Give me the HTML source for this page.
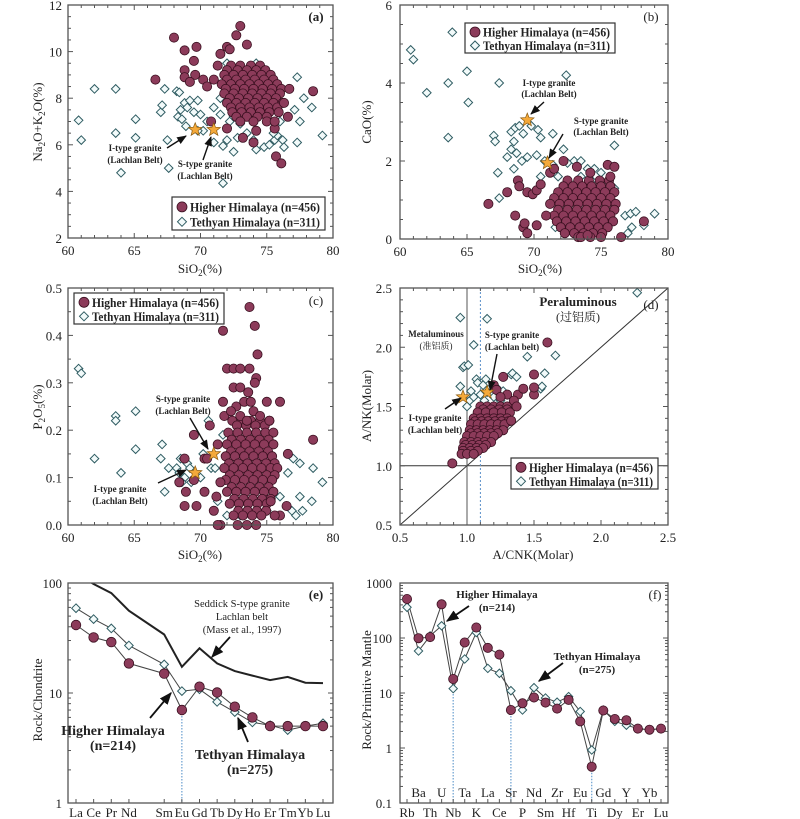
<!DOCTYPE html>
<html><head><meta charset="utf-8"><style>
html,body{margin:0;padding:0;background:#fff;}
svg{display:block;font-family:"Liberation Serif","Noto Serif CJK SC",serif;}
</style></head><body>
<svg id="fig" width="800" height="819" viewBox="0 0 800 819" xmlns="http://www.w3.org/2000/svg">
<defs><marker id="ah" viewBox="0 0 10 10" refX="9" refY="5" markerWidth="7" markerHeight="7" orient="auto"><path d="M0,1 L10,5 L0,9 z" fill="#111"/></marker></defs>
</svg>
<script>
// ===== Panel (a) data: SiO2 vs Na2O+K2O =====
const hhA = [[68,10.6],[68.8,10.05],[69.7,10.2],[69.5,9.6],[68.8,9.2],[68.8,8.9],[69.6,9.0],[69.2,8.7],[66.6,8.8],[70.2,8.8],[70.5,8.5],[71,8.8],[71.3,9.4],[71.5,9.9],[72,10.2],[72.7,10.7],[73,11.1],[73.5,10.3],[72.2,10.1],[70.8,7],[72,6.7],[73.2,6.3],[74,6.1],[74.2,6.6],[75.7,5.5],[76.1,5.2],[75.6,6.7],[75.6,7.0],[76.7,8.4],[78.5,8.3],[76.6,7.2],[76.3,7.8]];
const hhACoreY = [9.4,9.2,9.0,8.8,8.6,8.4,8.2,8.0,7.8,7.6,7.4,7.2,7.0];
const hhACoreX = [[72.3,73.0,73.8,74.5],[72.0,72.8,73.5,74.2,74.9],[71.8,72.5,73.2,73.9,74.6,75.3],[72.0,72.7,73.4,74.1,74.8,75.5],[71.6,72.3,73.0,73.7,74.4,75.1,75.8],[71.9,72.6,73.3,74.0,74.7,75.4,76.1],[71.8,72.5,73.2,73.9,74.6,75.3,76.0],[72.2,72.9,73.6,74.3,75.0,75.7],[72.0,72.7,73.4,74.1,74.8,75.5,76.2],[72.3,73.0,73.7,74.4,75.1,75.8],[72.4,73.1,73.8,74.5,75.2,75.9],[72.7,73.5,74.3,75.0],[73.0,74.0,75.0]];
const thA = [[60.8,7.05],[61,6.2],[62,8.4],[63.6,8.4],[63.6,6.5],[64,4.8],[65.1,7.1],[65.1,6.3],[67,7.4],[67.1,7.7],[67.3,8.4],[67.5,6.2],[67.6,5.0],[68.2,8.3],[68.4,8.25],[68.5,7.5],[68.3,7.2],[68.6,7.1],[68.8,7.8],[69,7.6],[69.2,7.9],[69.5,7.4],[69.8,7.9],[70,7.3],[70.2,6.6],[68.9,6.8],[69.8,6.6],[71,6.1],[71.7,5.95],[71.7,4.35],[72.5,5.7],[72,6.2],[72.8,6.3],[73.5,6.5],[74,6.2],[74.2,5.8],[74.8,5.9],[75.2,6.0],[75.6,6.2],[75.8,6.4],[76.2,6.2],[76.3,5.9],[77.3,8.9],[77.1,7.5],[77.5,7.0],[77.8,8.0],[78.4,7.6],[77.3,6.1],[79.2,6.4],[71.5,7.3],[72.2,7.0],[73,6.9],[71,7.6],[72.5,7.2],[74.2,9.5],[72,9.5],[71.5,8.0],[70.5,7.0],[75.5,6.5],[76,7.0]];
const starsA = [[69.6,6.65],[71,6.65]];
// ===== Panel (b) data: SiO2 vs CaO =====
const hhB = [[66.6,0.9],[68,1.2],[68.6,0.6],[68.8,1.5],[68.9,1.35],[69.2,0.3],[69.3,0.4],[69.5,0.15],[69.5,1.2],[69.9,1.15],[70.2,1.25],[70.5,1.4],[70.2,0.35],[70.9,0.6],[71.2,1.7],[71.5,1.8],[72.2,2.0],[73.2,1.85],[74.2,1.7],[75.5,1.9],[76,1.85],[75.7,1.6],[76.5,0.05],[78.2,0.45],[73.5,0.05],[74.0,0.1]];
const hhBCoreY = [1.5,1.35,1.2,1.05,0.9,0.75,0.6,0.45,0.3,0.15,0.05];
const hhBCoreX = [[72.5,73.3,74.1,74.9,75.6],[72.2,72.9,73.6,74.3,75.0,75.7],[71.8,72.5,73.2,73.9,74.6,75.3,76],[71.5,72.2,72.9,73.6,74.3,75,75.7],[71.2,71.9,72.6,73.3,74,74.7,75.4,76.1],[71.8,72.5,73.2,73.9,74.6,75.3,76],[71.5,72.2,72.9,73.6,74.3,75,75.7],[71.7,72.4,73.1,73.8,74.5,75.2,75.9],[72,72.7,73.4,74.1,74.8,75.5],[72.3,73.0,73.7,74.4,75.1],[73.3,74.2,75]];
const thB = [[60.8,4.85],[61,4.6],[62,3.75],[63.6,4.0],[63.6,2.6],[63.9,5.3],[65,4.3],[65.1,3.5],[67.4,4.0],[67.0,2.65],[67.1,2.5],[67.3,1.7],[67.4,1.05],[68.0,2.1],[68.3,2.3],[68.5,2.5],[68.3,2.75],[68.6,2.85],[68.9,2.9],[69.2,2.7],[68.7,2.2],[68.5,1.8],[68.8,1.5],[69.1,2.0],[69.5,2.1],[69.8,2.9],[70.3,2.8],[70.5,2.6],[70.2,2.15],[70.8,2.0],[71.4,2.7],[71.4,1.9],[72.2,2.3],[72.4,4.2],[72.5,1.95],[73,2.0],[73.5,2.0],[74,1.8],[74.5,1.8],[75,1.7],[75.5,1.5],[76.0,2.4],[76.0,1.3],[72.5,1.5],[73.5,1.6],[74.3,1.5],[76.8,0.6],[77.2,0.65],[77.6,0.7],[79,0.65],[77,0.15],[77.3,0.3],[71.6,0.3],[78.2,0.35],[70.5,1.6],[71.8,1.6]];
const starsB = [[69.5,3.05],[71,1.95]];
// ===== Panel (c) data: SiO2 vs P2O5 =====
const hhC = [[71.7,0.41],[73.7,0.46],[74.1,0.42],[74.3,0.36],[72,0.33],[72.5,0.33],[73,0.33],[73.7,0.33],[74.2,0.31],[74.1,0.30],[73.6,0.28],[72.5,0.29],[73,0.29],[72.7,0.25],[73.3,0.26],[73.8,0.26],[75,0.26],[76,0.26],[71.7,0.26],[71.8,0.23],[69.5,0.19],[70.7,0.21],[71.3,0.17],[70.3,0.14],[70.5,0.14],[68.8,0.14],[68.4,0.09],[68.9,0.07],[68.8,0.04],[69.7,0.04],[70.3,0.07],[69.5,0.095],[71,0.03],[71.5,0.0],[71.3,0.0],[71.2,0.06],[71.5,0.09],[78.5,0.18],[76.6,0.15],[76.5,0.04],[76,0.02],[75.6,0.02],[75.3,0.05],[72.3,0.24],[73,0.23],[74,0.24],[74.5,0.23],[75.2,0.22],[73.5,0.22]];
const hhCCoreY = [0.22,0.21,0.195,0.18,0.17,0.155,0.145,0.13,0.12,0.105,0.095,0.08,0.07,0.055,0.045,0.03,0.02,0.0];
const hhCCoreX = [[72.4,73.1,73.8,74.5,75.2],[72.75,73.45,74.15,74.85],[72.1,72.8,73.5,74.2,74.9,75.5],[72.35,73.05,73.75,74.45,75.15],[72.0,72.7,73.4,74.1,74.8,75.5],[72.3,73.0,73.7,74.4,75.1],[71.9,72.6,73.3,74.0,74.7,75.4],[72.15,72.85,73.55,74.25,74.95,75.6],[71.8,72.5,73.2,73.9,74.6,75.3,75.8],[72.2,72.9,73.6,74.3,75.0,75.6],[71.9,72.6,73.3,74.0,74.7,75.4],[72.35,73.05,73.75,74.45,75.15],[72.0,72.7,73.4,74.1,74.8,75.5],[72.55,73.25,73.95,74.65,75.3],[72.2,72.9,73.6,74.3,75.0],[72.85,73.55,74.25,74.95],[72.5,73.2,73.9,74.6],[72.8,73.5,74.2]];
const thC = [[60.8,0.33],[61,0.32],[62,0.14],[63.6,0.23],[63.6,0.22],[64,0.11],[65.1,0.24],[65.1,0.16],[67.1,0.17],[67,0.14],[67.3,0.07],[67.6,0.12],[68.2,0.12],[68.5,0.14],[68.7,0.14],[68.4,0.11],[68.8,0.1],[69,0.13],[69.2,0.12],[68.6,0.09],[69.3,0.09],[70,0.1],[70.2,0.15],[70.6,0.22],[70.8,0.12],[71.1,0.12],[71.3,0.05],[71.7,0.19],[72,0.02],[73,0.02],[74,0.02],[75,0.03],[76,0.06],[76.6,0.11],[77,0.14],[77.5,0.13],[77.5,0.06],[77.7,0.03],[77.2,0.02],[78.5,0.12],[78.4,0.05],[79.2,0.09],[76.9,0.03]];
const starsC = [[69.6,0.11],[71,0.15]];
// ===== Panel (d) data: A/CNK vs A/NK =====
const hhD = [[0.89,1.02],[1.6,2.04],[1.5,1.77],[1.5,1.6],[1.5,1.66],[1.38,1.6],[1.42,1.65],[1.27,1.75],[1.2,1.68],[1.22,1.64],[1.3,1.6],[1.25,1.58],[1.35,1.55],[1.37,1.5],[1.33,1.38]];
const hhDCoreY = [1.5,1.475,1.45,1.4,1.375,1.35,1.3,1.275,1.25,1.2,1.175,1.15,1.125,1.1];
const hhDCoreX = [[1.1,1.15,1.2,1.25,1.3],[1.12,1.18,1.24,1.3],[1.08,1.14,1.2,1.26,1.32],[1.05,1.1,1.15,1.2,1.25,1.3],[1.06,1.11,1.16,1.21,1.26,1.31],[1.03,1.08,1.13,1.18,1.23,1.28],[1.02,1.07,1.12,1.17,1.22,1.27],[1.03,1.08,1.13,1.18,1.23],[1.0,1.05,1.1,1.15,1.2],[0.98,1.03,1.08,1.13,1.18],[0.99,1.04,1.09,1.14],[0.97,1.02,1.07,1.12],[0.97,1.03,1.08],[0.96,1.0,1.05]];
const thD = [[0.95,2.25],[1.15,2.24],[1.05,2.02],[0.97,1.83],[0.98,1.84],[1.01,1.85],[0.95,1.67],[1.02,1.55],[1.07,1.73],[1.14,1.73],[1.08,1.7],[1.12,1.68],[1.18,1.66],[1.22,1.66],[1.27,1.63],[1.33,1.77],[1.34,1.78],[1.37,1.75],[1.45,1.92],[1.58,1.78],[1.66,1.93],[1.55,1.65],[1.56,1.67],[2.27,2.46],[1.05,1.58],[1.1,1.6],[1.15,1.62],[1.2,1.58],[1.03,1.63],[1.13,1.55],[1.0,1.5],[1.25,1.55]];
const starsD = [[0.97,1.58],[1.15,1.62]];
// ===== Panel (e) data: REE chondrite-normalised =====
const reeLabels = ["La","Ce","Pr","Nd","Sm","Eu","Gd","Tb","Dy","Ho","Er","Tm","Yb","Lu"];
const reePos = [0,1,2,3,5,6,7,8,9,10,11,12,13,14];
const reeHH = [41.5,32,29,18.6,15,7,11.4,10.1,7.5,6,5,5,5,5];
const reeTH = [59,47,38.7,27,18.2,10.4,10.8,8.3,6.7,5.4,5.1,4.6,5.0,5.3];
const reeSeddick = [123,98,81,56,34,17.3,25.5,18.6,15.8,14.4,13.1,14,12.4,12.3];
const eTicks = [1,10,100];
// ===== Panel (f) data: spider diagram =====
const spLabels = ["Rb","Ba","Th","U","Nb","Ta","K","La","Ce","Sr","P","Nd","Sm","Zr","Hf","Eu","Ti","Gd","Dy","Y","Er","Yb","Lu"];
const spHH = [512,99,104,410,18,83,155,66,50,4.9,6.5,8.3,6.7,5.2,7.5,3.05,0.457,4.8,3.37,3.2,2.25,2.15,2.25];
const spTH = [361,58,109,167,12,41.5,126,28,22.8,11,4.9,12.5,8.1,6.8,8.6,4.6,0.92,4.9,3.05,2.6,2.25,2.15,2.25];
const fTicks = ["0.1","1","10","100","1000"];

const svg = document.getElementById('fig');
const NS = 'http://www.w3.org/2000/svg';
function mk(tag, attrs, parent){ const e=document.createElementNS(NS,tag); for(const k in attrs) e.setAttribute(k,attrs[k]); (parent||svg).appendChild(e); return e; }
function txt(s,x,y,opt,parent){ opt=opt||{}; const t=mk('text',{x:x,y:y,'font-size':opt.fs||13,'text-anchor':opt.anchor||'middle','font-weight':opt.fw||'normal',fill:'#222'},parent); if(opt.rot) t.setAttribute('transform','rotate(-90 '+x+' '+y+')'); if(opt.tl){t.setAttribute('textLength',opt.tl);t.setAttribute('lengthAdjust','spacingAndGlyphs');} t.textContent=s; return t; }
function lin(d0,d1,r0,r1){ return v=>r0+(v-d0)/(d1-d0)*(r1-r0); }
function logs(d0,d1,r0,r1){ return v=>r0+(Math.log10(v)-Math.log10(d0))/(Math.log10(d1)-Math.log10(d0))*(r1-r0); }
const HHF='#8c3b5a', HHS='#3a1020', THF='#f2fafa', THS='#2f5c62';
function circ(g,x,y,r){ const c=mk('circle',{cx:x.toFixed(1),cy:y.toFixed(1),r:r||4.6,fill:HHF,stroke:HHS,'stroke-width':0.8},g);

 return c; }
function diam(g,x,y,r){ r=r||4.3; const p=mk('path',{d:`M${x.toFixed(1)},${(y-r).toFixed(1)} L${(x+r).toFixed(1)},${y.toFixed(1)} L${x.toFixed(1)},${(y+r).toFixed(1)} L${(x-r).toFixed(1)},${y.toFixed(1)} Z`,fill:THF,stroke:THS,'stroke-width':1},g);

 return p; }
function star(g,x,y){ const R=7,r=3; let d=''; for(let i=0;i<10;i++){const a=-Math.PI/2+i*Math.PI/5; const rr=i%2?r:R; d+=(i?'L':'M')+(x+rr*Math.cos(a)).toFixed(1)+','+(y+rr*Math.sin(a)).toFixed(1);} const s=mk('path',{d:d+'Z',fill:'#f4a93a',stroke:'#8a5a10','stroke-width':0.7},g);

 }
function arrow(g,x1,y1,x2,y2,w){ const l=mk('line',{x1:x1,y1:y1,x2:x2,y2:y2,stroke:'#111','stroke-width':w||1.4,'marker-end':'url(#ah)'},g);

 }
function frame(g,L,T,R,B){ const f=mk('rect',{x:L,y:T,width:R-L,height:B-T,fill:'none',stroke:'#555','stroke-width':1.3},g);

 }
function linTicks(g,sx,sy,L,T,R,B,xmaj,xmin,xr,ymaj,ymin,yr,xfmt,yfmt,labelLeftX){
  for(let v=xr[0]; v<=xr[1]+1e-9; v+=xmin){ const x=sx(v); const maj=Math.abs(v/xmaj-Math.round(v/xmaj))<1e-6; const len=maj?5:3;
    mk('line',{x1:x,y1:B,x2:x,y2:B-len,stroke:'#555'},g); mk('line',{x1:x,y1:T,x2:x,y2:T+len,stroke:'#555'},g);
    if(maj) txt(xfmt(v),x,B+17,{fs:13},g); }
  for(let v=yr[0]; v<=yr[1]+1e-9; v+=ymin){ const y=sy(v); const maj=Math.abs(v/ymaj-Math.round(v/ymaj))<1e-6; const len=maj?5:3;
    mk('line',{x1:L,y1:y,x2:L+len,y2:y,stroke:'#555'},g); mk('line',{x1:R,y1:y,x2:R-len,y2:y,stroke:'#555'},g);
    if(maj) txt(yfmt(v),labelLeftX,y+5,{fs:13,anchor:'end'},g); }
}
function legend(g,x,y,w,h){ const r=mk('rect',{x:x,y:y,width:w,height:h,fill:'#fff',stroke:'#333','stroke-width':1.2},g);
 
 circ(g,x+10,y+h*0.3,5); txt('Higher Himalaya (n=456)',x+18,y+h*0.3+4.5,{fs:12.5,fw:'bold',anchor:'start',tl:w-23},g);
 diam(g,x+10,y+h*0.75,4.5); txt('Tethyan Himalaya (n=311)',x+18,y+h*0.75+4.5,{fs:12.5,fw:'bold',anchor:'start',tl:w-23},g); }
function drawScatter(g,sx,sy,hh,coreY,coreX,th){
  th.forEach(p=>diam(g,sx(p[0]),sy(p[1])));
  coreY.forEach((yv,i)=>coreX[i].forEach(xv=>circ(g,sx(xv),sy(yv))));
  hh.forEach(p=>circ(g,sx(p[0]),sy(p[1])));
}
function panel(name){ const g=mk('g',{});   return g; }
function sio2(g,x,y){ const t=mk('text',{x:x,y:y,'font-size':13,'text-anchor':'middle',fill:'#222'},g); t.innerHTML='SiO<tspan font-size="9" dy="3">2</tspan><tspan dy="-3">(%)</tspan>';   }

// ---- Panel a ----
(function(){ const g=panel('panel-a'); const L=68,R=333,T=5,B=238; const sx=lin(60,80,L,R), sy=lin(2,12,B,T);
 drawScatter(g,sx,sy,hhA,hhACoreY,hhACoreX,thA); starsA.forEach(p=>star(g,sx(p[0]),sy(p[1])));
 frame(g,L,T,R,B); linTicks(g,sx,sy,L,T,R,B,5,1,[60,80],2,0.5,[2,12],v=>v,v=>v,62);
 sio2(g,200,273);
 const yt=mk('text',{x:42,y:122,'font-size':13,'text-anchor':'middle',fill:'#222',transform:'rotate(-90 42 122)'},g); yt.innerHTML='Na<tspan font-size="9" dy="3">2</tspan><tspan dy="-3">O+K</tspan><tspan font-size="9" dy="3">2</tspan><tspan dy="-3">O(%)</tspan>';
  
 txt('(a)',316,21,{fs:13,fw:'bold'},g);
 txt('I-type granite',135,151,{fs:9,fw:'bold'},g); txt('(Lachlan Belt)',135,163,{fs:9,fw:'bold'},g); arrow(g,167,148,186,136);
 txt('S-type granite',205,167,{fs:9,fw:'bold'},g); txt('(Lachlan Belt)',205,179,{fs:9,fw:'bold'},g); arrow(g,203,160,211,137);
 legend(g,172,197,153,33); })();
// ---- Panel b ----
(function(){ const g=panel('panel-b'); const L=400,R=668,T=5,B=239; const sx=lin(60,80,L,R), sy=lin(0,6,B,T);
 drawScatter(g,sx,sy,hhB,hhBCoreY,hhBCoreX,thB); starsB.forEach(p=>star(g,sx(p[0]),sy(p[1])));
 frame(g,L,T,R,B); linTicks(g,sx,sy,L,T,R,B,5,1,[60,80],2,0.5,[0,6],v=>v,v=>v,392);
 sio2(g,540,273); txt('CaO(%)',371,122,{fs:13,rot:true},g);
 txt('(b)',651,21,{fs:13},g);
 txt('I-type granite',549,86,{fs:9,fw:'bold'},g); txt('(Lachlan Belt)',549,97,{fs:9,fw:'bold'},g); arrow(g,544,102,531,114);
 txt('S-type granite',601,124,{fs:9,fw:'bold'},g); txt('(Lachlan Belt)',601,135,{fs:9,fw:'bold'},g); arrow(g,563,134,549,158);
 legend(g,465,23,150,30); })();
// ---- Panel c ----
(function(){ const g=panel('panel-c'); const L=68,R=333,T=288,B=525; const sx=lin(60,80,L,R), sy=lin(0,0.5,B,T);
 drawScatter(g,sx,sy,hhC,hhCCoreY,hhCCoreX,thC); starsC.forEach(p=>star(g,sx(p[0]),sy(p[1])));
 frame(g,L,T,R,B); linTicks(g,sx,sy,L,T,R,B,5,1,[60,80],0.1,0.05,[0,0.5],v=>v,v=>v.toFixed(1),62);
 sio2(g,200,559);
 const yt=mk('text',{x:42,y:407,'font-size':13,'text-anchor':'middle',fill:'#222',transform:'rotate(-90 42 407)'},g); yt.innerHTML='P<tspan font-size="9" dy="3">2</tspan><tspan dy="-3">O</tspan><tspan font-size="9" dy="3">5</tspan><tspan dy="-3">(%)</tspan>';
  
 txt('(c)',316,305,{fs:13},g);
 txt('S-type granite',183,402,{fs:9,fw:'bold'},g); txt('(Lachlan Belt)',183,414,{fs:9,fw:'bold'},g); arrow(g,190,418,208,449);
 txt('I-type granite',120,492,{fs:9,fw:'bold'},g); txt('(Lachlan Belt)',120,504,{fs:9,fw:'bold'},g); arrow(g,158,483,186,470);
 legend(g,74,293,150,31); })();
// ---- Panel d ----
(function(){ const g=panel('panel-d'); const L=400,R=668,T=288,B=525; const sx=lin(0.5,2.5,L,R), sy=lin(0.5,2.5,B,T);
 mk('line',{x1:sx(0.5),y1:sy(0.5),x2:sx(2.5),y2:sy(2.5),stroke:'#333','stroke-width':1},g);
 mk('line',{x1:L,y1:sy(1),x2:R,y2:sy(1),stroke:'#333','stroke-width':1},g);
 mk('line',{x1:sx(1),y1:T,x2:sx(1),y2:B,stroke:'#555','stroke-width':1},g);
 mk('line',{x1:sx(1.1),y1:T,x2:sx(1.1),y2:B,stroke:'#5a8fc8','stroke-width':1,'stroke-dasharray':'2,2'},g);
 drawScatter(g,sx,sy,hhD,hhDCoreY,hhDCoreX,thD); starsD.forEach(p=>star(g,sx(p[0]),sy(p[1])));
 frame(g,L,T,R,B); linTicks(g,sx,sy,L,T,R,B,0.5,0.1,[0.5,2.5],0.5,0.1,[0.5,2.5],v=>v.toFixed(1),v=>v.toFixed(1),392);
 txt('A/CNK(Molar)',533,559,{fs:13},g); txt('A/NK(Molar)',371,406,{fs:13,rot:true},g);
 txt('(d)',651,309,{fs:13},g);
 txt('Peraluminous',578,306,{fs:13,fw:'bold'},g); txt('(过铝质)',578,321,{fs:12},g);
 txt('Metaluminous',436,337,{fs:9,fw:'bold'},g); txt('(准铝质)',436,349,{fs:9},g);
 txt('S-type granite',512,338,{fs:9,fw:'bold'},g); txt('(Lachlan belt)',512,350,{fs:9,fw:'bold'},g); arrow(g,497,354,490,390);
 txt('I-type granite',435,421,{fs:9,fw:'bold'},g); txt('(Lachlan belt)',435,433,{fs:9,fw:'bold'},g); arrow(g,445,409,461,398);
 legend(g,511,458,147,31); })();
// ---- Panel e ----
(function(){ const g=panel('panel-e'); const L=68,R=333,T=583,B=803; const sx=lin(0,14,76,323), sy=logs(1,100,B,T);
 const cp=mk('clipPath',{id:'clipE'},g); mk('rect',{x:L,y:T,width:R-L,height:B-T},cp);
 mk('line',{x1:sx(6),y1:sy(reeHH[5]),x2:sx(6),y2:B,stroke:'#6a9fd0','stroke-width':1.2,'stroke-dasharray':'1.5,1.5'},g);
 const ln=(arr,w,c)=>{ const p=mk('polyline',{points:arr.map((v,i)=>sx(reePos[i]).toFixed(1)+','+sy(v).toFixed(1)).join(' '),fill:'none',stroke:c,'stroke-width':w},g); return p; };
 const sd=ln(reeSeddick,2,'#222'); sd.setAttribute('clip-path','url(#clipE)');  
 const l1=ln(reeTH,1,'#444');  
 const l2=ln(reeHH,1,'#444');  
 reeTH.forEach((v,i)=>diam(g,sx(reePos[i]),sy(v),4.3));
 reeHH.forEach((v,i)=>circ(g,sx(reePos[i]),sy(v),4.8));
 frame(g,L,T,R,B);
 for(let d=1;d<100;d*=10) for(let m=1;m<10;m++){ const y=sy(d*m); const len=m===1?5:3; mk('line',{x1:L,y1:y,x2:L+len,y2:y,stroke:'#555'},g); mk('line',{x1:R,y1:y,x2:R-len,y2:y,stroke:'#555'},g); }
 eTicks.forEach(v=>txt(String(v),62,sy(v)+5,{fs:13,anchor:'end'},g));
 reeLabels.forEach((s,i)=>{ const x=sx(reePos[i]); mk('line',{x1:x,y1:B,x2:x,y2:B-4,stroke:'#555'},g); txt(s,x,817,{fs:13},g); });
 txt('Rock/Chondrite',42,700,{fs:13,rot:true},g);
 txt('(e)',316,599,{fs:13,fw:'bold'},g);
 txt('Seddick S-type granite',242,607,{fs:10.5},g); txt('Lachlan belt',242,620,{fs:10.5},g); txt('(Mass et al., 1997)',242,633,{fs:10.5},g);
 arrow(g,230,637,212,657,1.8);
 txt('Higher Himalaya',113,735,{fs:14,fw:'bold'},g); txt('(n=214)',113,750,{fs:14,fw:'bold'},g); arrow(g,150,718,171,693,1.8);
 txt('Tethyan Himalaya',250,759,{fs:14,fw:'bold'},g); txt('(n=275)',250,774,{fs:14,fw:'bold'},g); arrow(g,248,742,238,718,1.8);
})();
// ---- Panel f ----
(function(){ const g=panel('panel-f'); const L=400,R=668,T=583,B=803; const sx=lin(0,22,407,661), sy=logs(0.1,1000,B,T);
 [4,9,16].forEach(i=>mk('line',{x1:sx(i),y1:sy(spHH[i]),x2:sx(i),y2:B,stroke:'#6a9fd0','stroke-width':1.2,'stroke-dasharray':'1.5,1.5'},g));
 const ln=arr=>mk('polyline',{points:arr.map((v,i)=>sx(i).toFixed(1)+','+sy(v).toFixed(1)).join(' '),fill:'none',stroke:'#444','stroke-width':1},g);
 const a1=ln(spTH);  
 const a2=ln(spHH);  
 spTH.forEach((v,i)=>diam(g,sx(i),sy(v),4.2));
 spHH.forEach((v,i)=>circ(g,sx(i),sy(v),4.6));
 frame(g,L,T,R,B);
 for(let d=0.1;d<999;d*=10) for(let m=1;m<10;m++){ const y=sy(d*m); const len=m===1?5:3; mk('line',{x1:L,y1:y,x2:L+len,y2:y,stroke:'#555'},g); mk('line',{x1:R,y1:y,x2:R-len,y2:y,stroke:'#555'},g); }
 fTicks.forEach(s=>txt(s,392,sy(parseFloat(s))+5,{fs:13,anchor:'end'},g));
 spLabels.forEach((s,i)=>{ const x=sx(i); mk('line',{x1:x,y1:B,x2:x,y2:B-4,stroke:'#555'},g); txt(s,x,i%2?797:817,{fs:13},g); });
 txt('Rock/Primitive Mantle',371,690,{fs:13,rot:true},g);
 txt('(f)',655,599,{fs:13},g);
 txt('Higher Himalaya',497,598,{fs:11,fw:'bold'},g); txt('(n=214)',497,611,{fs:11,fw:'bold'},g); arrow(g,469,606,447,621,1.8);
 txt('Tethyan Himalaya',597,660,{fs:11,fw:'bold'},g); txt('(n=275)',597,673,{fs:11,fw:'bold'},g); arrow(g,563,663,539,681,1.8);
})();
</script>
</body></html>
